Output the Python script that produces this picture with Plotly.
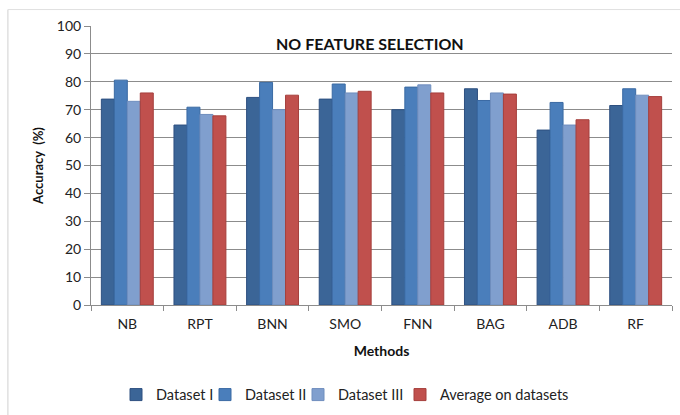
import plotly.graph_objects as go

# Classification accuracy (%) per method, no feature selection
methods = ["NB", "RPT", "BNN", "SMO", "FNN", "BAG", "ADB", "RF"]
dataset_1 = [73.8, 64.5, 74.4, 73.8, 70.0, 77.5, 62.7, 71.5]
dataset_2 = [80.6, 70.9, 79.8, 79.2, 78.1, 73.3, 72.6, 77.5]
dataset_3 = [73.0, 68.3, 70.0, 76.0, 78.9, 76.0, 64.5, 75.2]
average = [76.0, 67.8, 75.2, 76.6, 76.0, 75.6, 66.4, 74.7]
y_ticks = list(range(0, 101, 10))

series = [
    ("Dataset I", dataset_1, "#3B6597", "#2E5080"),
    ("Dataset II", dataset_2, "#4A7EBB", "#3A6AA3"),
    ("Dataset III", dataset_3, "#809FCE", "#6F8EBE"),
    ("Average on datasets", average, "#C0504D", "#A53F3C"),
]

FONT = "Lato"
W, H = 680, 415
# left edge (px) of each legend entry, one legend box per series
legend_left = [116, 205, 298, 400]
legend_ids = ["legend", "legend2", "legend3", "legend4"]

fig = go.Figure()
for (name, vals, fill, edge), lid in zip(series, legend_ids):
    fig.add_trace(go.Bar(
        x=methods, y=vals, name=name, legend=lid,
        marker=dict(color=fill, line=dict(color=edge, width=1)),
    ))

legend_style = dict(
    orientation="h", xref="container", yref="container",
    xanchor="left", y=0.049, yanchor="middle",
    font=dict(family=FONT, size=14.5, color="#222222"),
    itemwidth=30, bgcolor="rgba(0,0,0,0)",
)
legends = {lid: dict(legend_style, x=left / W)
           for lid, left in zip(legend_ids, legend_left)}

fig.update_layout(
    width=W, height=H,
    margin=dict(l=91, r=8, t=26, b=110, autoexpand=False),
    paper_bgcolor="white", plot_bgcolor="white",
    barmode="group", bargap=0.285, bargroupgap=0,
    font=dict(family=FONT, size=13, color="#222222"),
    showlegend=True,
    annotations=[dict(
        text="<b>NO FEATURE SELECTION</b>", xref="paper", yref="paper",
        x=0.481, y=0.939, xanchor="center", yanchor="middle", showarrow=False,
        font=dict(family=FONT, size=16, color="#111111"),
    )],
    shapes=[
        # outer chart frame (left and top edges)
        dict(type="line", xref="paper", yref="paper",
             x0=-0.143, x1=-0.143, y0=1.059, y1=-0.5,
             line=dict(color="#D0D0D0", width=1)),
        dict(type="line", xref="paper", yref="paper",
             x0=-0.143, x1=1.1, y0=1.059, y1=1.059,
             line=dict(color="#E0E0E0", width=1)),
    ],
    **legends,
)

fig.update_xaxes(
    showline=True, linecolor="#8C8C8C", linewidth=1,
    ticks="outside", tickson="boundaries", ticklen=5, tickcolor="#8C8C8C",
    showgrid=False, ticklabelstandoff=6,
    tickfont=dict(family=FONT, size=14, color="#222222"),
    title=dict(text="<b>Methods</b>", font=dict(family=FONT, size=14, color="#111111"), standoff=15),
)
fig.update_yaxes(
    range=[0, 100], tickvals=y_ticks,
    showline=True, linecolor="#8C8C8C", linewidth=1,
    ticks="outside", ticklen=6, tickcolor="#8C8C8C",
    showgrid=True, gridcolor="#8C8C8C", gridwidth=1,
    zeroline=False,
    tickfont=dict(family=FONT, size=14, color="#222222"),
    title=dict(text="<b>Accuracy  (%)</b>", font=dict(family=FONT, size=13, color="#111111"), standoff=10),
)

fig.write_html("out.html")
